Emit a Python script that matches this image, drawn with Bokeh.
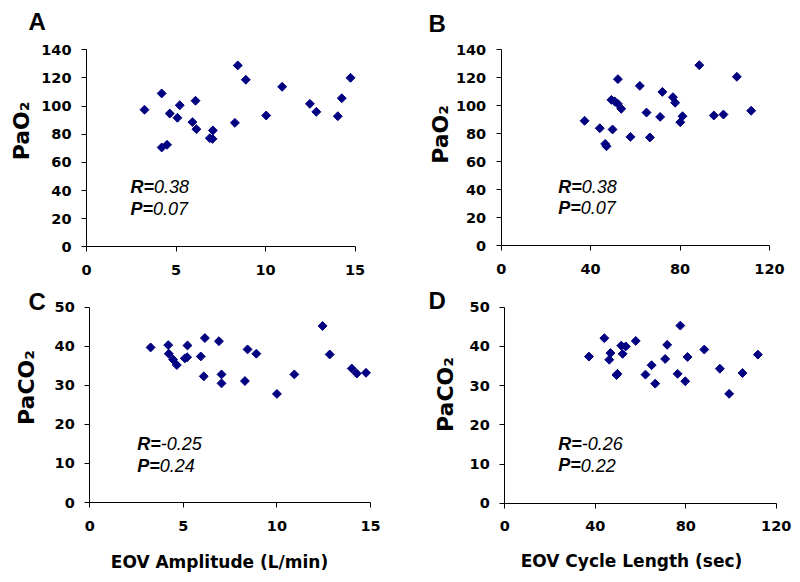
import math
from bokeh.plotting import figure
from bokeh.models import Range1d, FixedTicker, Label
from bokeh.layouts import row, column
from bokeh.embed import file_html
from bokeh.resources import INLINE

# ---- data ----
amp_A = [3.24, 4.2, 4.2, 4.5, 4.65, 5.08, 5.21, 5.92, 6.09, 6.14, 6.89, 7.04, 7.06,
         8.29, 8.45, 8.9, 10.04, 10.93, 12.48, 12.84, 14.04, 14.26, 14.75]
pao2_A = [97.4, 109, 70.6, 72.5, 94.7, 91.7, 100.6, 88.6, 103.8, 83.6, 77.2, 76.7, 82.7,
          88.1, 128.9, 118.7, 93.3, 113.7, 101.6, 95.9, 92.8, 105.6, 120.1]

cyc_B = [37.3, 44.1, 46.5, 47.1, 49.8, 49.3, 50.8, 52.2, 52.2, 53.7, 57.8, 62.0, 65.0,
         66.5, 71.1, 72.1, 76.8, 77.8, 80.1, 81.1, 88.6, 95.1, 99.4, 105.4, 111.8]
pao2_B = [89.2, 83.9, 72.7, 71.0, 83.0, 104.2, 103.0, 101.3, 119.0, 97.8, 77.7, 114.2, 95.1,
          77.3, 92.0, 109.9, 106.1, 102.1, 88.2, 92.5, 129.0, 93.0, 93.7, 120.7, 96.4]

amp_C = [3.25, 4.19, 4.22, 4.45, 4.65, 5.08, 5.2, 5.22, 5.93, 6.09, 6.15, 6.9, 7.04, 7.04,
         8.29, 8.43, 8.9, 10.0, 10.93, 12.44, 12.82, 14.0, 14.27, 14.76]
paco2_C = [39.7, 40.3, 38.1, 36.6, 35.2, 36.9, 37.2, 40.2, 37.4, 32.3, 42.1, 41.3, 32.8, 30.5,
           31.1, 39.2, 38.1, 27.8, 32.8, 45.2, 37.9, 34.3, 33.0, 33.2]

cyc_D = [37.2, 44.0, 46.2, 46.7, 49.4, 49.8, 51.5, 52.1, 53.5, 57.9, 62.2, 64.9, 66.5, 70.9,
         71.8, 76.4, 77.6, 79.8, 80.8, 88.2, 95.1, 99.2, 105.1, 111.9]
paco2_D = [37.4, 42.1, 36.6, 38.3, 32.7, 33.0, 40.2, 38.1, 40.0, 41.4, 32.8, 35.2, 30.5, 36.8,
           40.4, 33.0, 45.3, 31.1, 37.3, 39.2, 34.3, 27.9, 33.2, 37.9]

amp_ticks = [0, 5, 10, 15]
cyc_ticks = [0, 40, 80, 120]
pao2_ticks = [0, 20, 40, 60, 80, 100, 120, 140]
paco2_ticks = [0, 10, 20, 30, 40, 50]

AXFONT = "DejaVu Sans"
TXTFONT = "Liberation Sans"
NAVY = "#000080"
R90 = math.pi / 2


class Panel:
    def __init__(self, box, xpx, ypx, xr, xt, yr, yt, xs, ys):
        # box: figure placement (left, top, width, height) in page pixels
        # xpx: page-x of x-range ends; ypx: page-y of y-range ends (bottom, top)
        self.box = box
        fx, fy, fw, fh = box
        sx = (xpx[1] - xpx[0]) / (xr[1] - xr[0])
        sy = (ypx[0] - ypx[1]) / (yr[1] - yr[0])
        x_start = xr[0] - (xpx[0] - fx) / sx
        x_end = xr[1] + (fx + fw - xpx[1]) / sx
        y_start = yr[0] - (fy + fh - ypx[0]) / sy
        y_end = yr[1] + (ypx[1] - fy) / sy
        p = figure(width=fw, height=fh, x_range=Range1d(x_start, x_end),
                   y_range=Range1d(y_start, y_end),
                   output_backend="svg", toolbar_location=None, min_border=0)
        p.outline_line_color = None
        p.grid.visible = False
        p.background_fill_color = "white"
        p.border_fill_color = "white"
        p.xaxis.ticker = FixedTicker(ticks=xt)
        p.yaxis.ticker = FixedTicker(ticks=yt)
        p.xaxis.fixed_location = yr[0]
        p.yaxis.fixed_location = xr[0]
        p.xaxis.bounds = xr
        p.yaxis.bounds = yr
        for ax in p.axis:
            ax.major_tick_out = 5
            ax.major_tick_in = 0
            ax.minor_tick_out = 0
            ax.minor_tick_in = 0
            ax.axis_line_color = "black"
            ax.major_tick_line_color = "black"
            ax.major_label_text_font = AXFONT
            ax.major_label_text_font_size = "14.5px"
            ax.major_label_text_font_style = "bold"
            ax.major_label_text_color = "black"
        p.yaxis.major_label_standoff = 10
        p.xaxis.major_label_standoff = 13
        p.scatter(xs, ys, marker="square", angle=math.pi / 4, size=6.3,
                  fill_color=NAVY, line_color=NAVY)
        self.p = p

    def lab(self, ax_, ay_, text, font, size, style, align="left", angle=0.0):
        # ax_, ay_: page position of the text anchor (vertical middle of the text)
        fx, fy, fw, fh = self.box
        self.p.add_layout(Label(x=ax_ - fx, y=fy + fh - ay_, x_units="screen", y_units="screen",
                                text=text, text_font=font, text_font_size=size,
                                text_font_style=style, text_color="black", text_align=align,
                                text_baseline="middle", angle=angle))

    def rp(self, x, yR, yP, rtxt, ptxt):
        self.lab(x, yR, "R=", TXTFONT, "18px", "bold italic")
        self.lab(x + 23.5, yR, rtxt, TXTFONT, "18px", "italic")
        self.lab(x, yP, "P=", TXTFONT, "18px", "bold italic")
        self.lab(x + 22.5, yP, ptxt, TXTFONT, "18px", "italic")


A = Panel((0, 0, 400, 282), (86, 354.5), (246.3, 49.3), (0, 15), amp_ticks,
          (0, 140), pao2_ticks, amp_A, pao2_A)
A.lab(28, 20.5, "A", TXTFONT, "24px", "bold")
A.lab(21, 130.5, "PaO₂", AXFONT, "22px", "bold", align="center", angle=R90)
A.rp(130, 186.4, 208, "0.38", "0.07")

B = Panel((400, 0, 398, 282), (500.7, 769), (245, 49.3), (0, 120), cyc_ticks,
          (0, 140), pao2_ticks, cyc_B, pao2_B)
B.lab(428, 22.5, "B", TXTFONT, "24px", "bold")
B.lab(440.2, 134, "PaO₂", AXFONT, "22px", "bold", align="center", angle=R90)
B.rp(557.7, 186.4, 207, "0.38", "0.07")

C = Panel((0, 282, 400, 298), (89.3, 370), (502, 306.7), (0, 15), amp_ticks,
          (0, 50), paco2_ticks, amp_C, paco2_C)
C.lab(28, 300.8, "C", TXTFONT, "24px", "bold")
C.lab(25.5, 387, "PaCO₂", AXFONT, "22px", "bold", align="center", angle=R90)
C.rp(136.7, 443, 465.3, "-0.25", "0.24")
C.lab(219, 561, "EOV Amplitude (L/min)", AXFONT, "17px", "bold", align="center")

D = Panel((400, 282, 398, 298), (504.3, 775.7), (502.7, 306.7), (0, 120), cyc_ticks,
          (0, 50), paco2_ticks, cyc_D, paco2_D)
D.lab(428, 299.7, "D", TXTFONT, "24px", "bold")
D.lab(445.2, 394, "PaCO₂", AXFONT, "22px", "bold", align="center", angle=R90)
D.rp(557.7, 443, 464.6, "-0.26", "0.22")
D.lab(631, 560.7, "EOV Cycle Length (sec)", AXFONT, "17px", "bold", align="center")

layout = column(row(A.p, B.p), row(C.p, D.p))
open("out.html", "w").write(file_html(layout, INLINE))
